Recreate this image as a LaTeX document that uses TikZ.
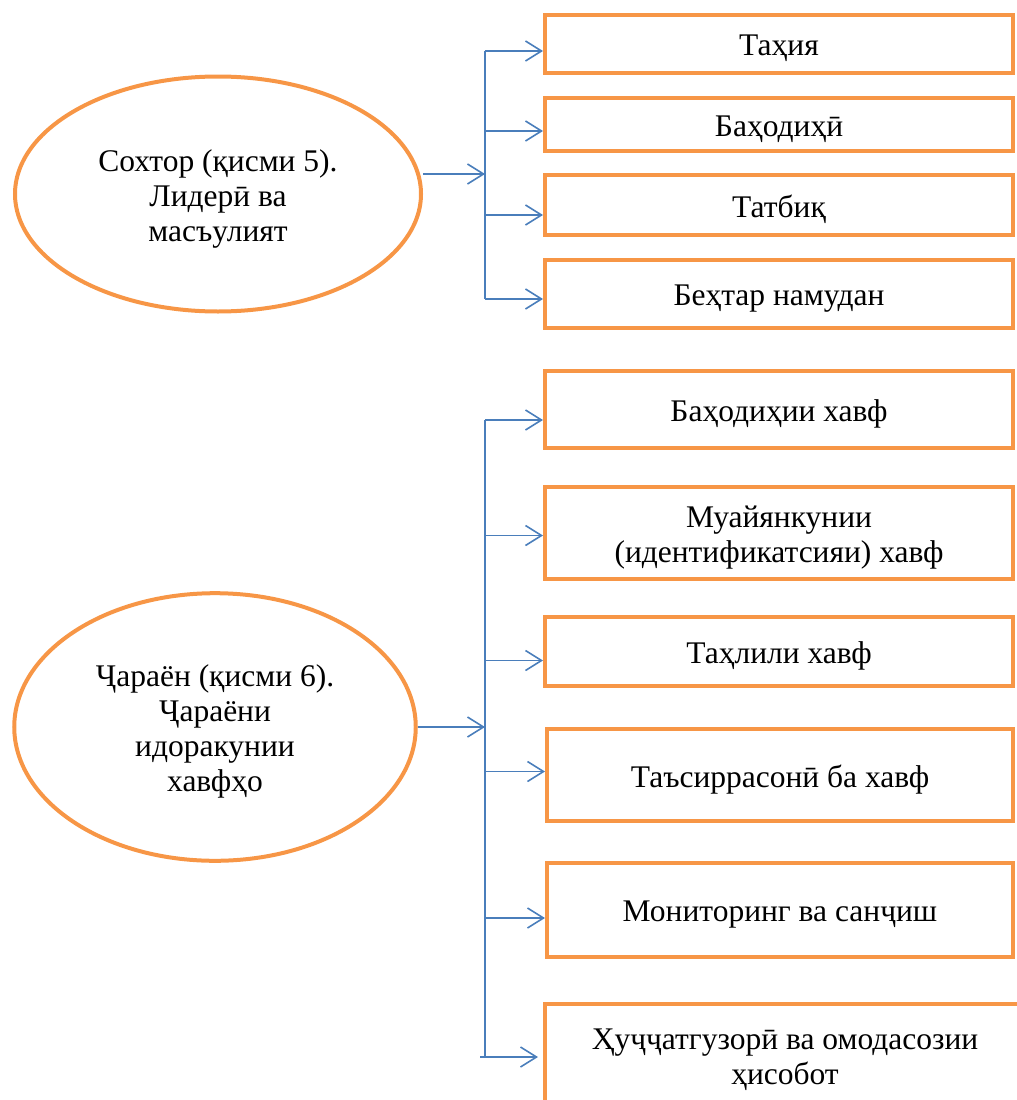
\documentclass[tikz,border=0pt]{standalone}
\usepackage{fontspec}
\setmainfont{Liberation Serif}
\usetikzlibrary{arrows.meta,shapes.geometric}
\definecolor{orng}{HTML}{F79646}
\definecolor{blu}{HTML}{4A7EBB}
\begin{document}
\begin{tikzpicture}[x=1pt,y=-1pt,
  txt/.style={font=\fontsize{31.5}{35}\selectfont,align=center,yshift=-4.5pt,inner sep=0pt},
  box/.style={draw=orng,line width=4pt,inner sep=0pt},
  oval/.style={ellipse,draw=orng,line width=4pt,inner sep=0pt},
  link/.style={draw=blu,line width=1.6pt},
  arr/.style={link,-{Straight Barb[length=16pt,width=20pt,line width=1.6pt]}}]
\clip (0,0) rectangle (1017,1100);
\useasboundingbox (0,0) rectangle (1017,1100);
% ---- top group ----
\node[oval,minimum width=406pt,minimum height=235pt,
  label={[txt]center:{Сохтор (қисми 5).\\Лидерӣ ва\\масъулият}}] (e1) at (218,194) {};
\node[box,minimum width=468pt,minimum height=58pt,label={[txt]center:Таҳия}] (t1) at (779,44) {};
\node[box,minimum width=468pt,minimum height=53pt,label={[txt]center:Баҳодиҳӣ}] (t2) at (779,124.5) {};
\node[box,minimum width=468pt,minimum height=60pt,label={[txt]center:Татбиқ}] (t3) at (779,205) {};
\node[box,minimum width=468pt,minimum height=68pt,label={[txt]center:Беҳтар намудан}] (t4) at (779,294) {};
\coordinate (a1) at (485,51);
\coordinate (a2) at (485,131);
\coordinate (a3) at (485,215);
\coordinate (a4) at (485,299);
\coordinate (s1) at ([yshift=20pt]e1.east);
\draw[link] (a1) -- (a4);
\draw[arr] (s1) -- (s1 -| a1);
\draw[arr] (a1) -- (a1 -| t1.west);
\draw[arr] (a2) -- (a2 -| t2.west);
\draw[arr] (a3) -- (a3 -| t3.west);
\draw[arr] (a4) -- (a4 -| t4.west);
% ---- bottom group ----
\node[oval,minimum width=401.5pt,minimum height=267.6pt,
  label={[txt]center:{Ҷараён (қисми 6).\\Ҷараёни\\идоракунии\\хавфҳо}}] (e2) at (215,727) {};
\node[box,minimum width=468pt,minimum height=77pt,label={[txt]center:Баҳодиҳии хавф}] (b1) at (779,409) {};
\node[box,minimum width=468pt,minimum height=92pt,label={[txt]center:{Муайянкунии\\(идентификатсияи) хавф}}] (b2) at (779,533) {};
\node[box,minimum width=468pt,minimum height=69pt,label={[txt]center:Таҳлили хавф}] (b3) at (779,651.5) {};
\node[box,minimum width=466pt,minimum height=92pt,label={[txt]center:Таъсиррасонӣ ба хавф}] (b4) at (780,775) {};
\node[box,minimum width=466pt,minimum height=94pt,label={[txt]center:Мониторинг ва санҷиш}] (b5) at (780,910) {};
\node[box,minimum width=480pt,minimum height=102pt,label={[txt]center:{Ҳуҷҷатгузорӣ ва омодасозии\\ҳисобот}}] (b6) at (785,1055) {};
\coordinate (d1) at (485,420);
\coordinate (d2) at (485,535.5);
\coordinate (d3) at (485,660.5);
\coordinate (d4) at (485,771.5);
\coordinate (d5) at (485,918);
\coordinate (d6) at (480,1057);
\draw[link] (d1) -- (d1 |- d6);
\draw[arr] (e2.east) -- (e2.east -| d1);
\draw[arr] (d1) -- (d1 -| b1.west);
\draw[arr] (d2) -- (d2 -| b2.west);
\draw[arr] (d3) -- (d3 -| b3.west);
\draw[arr] (d4) -- (d4 -| b4.west);
\draw[arr] (d5) -- (d5 -| b5.west);
\draw[arr] (d6) -- ([xshift=-5pt]d6 -| b6.west);
\end{tikzpicture}
\end{document}
